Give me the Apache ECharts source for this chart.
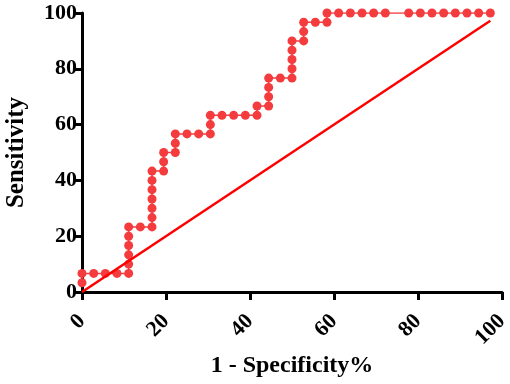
<!DOCTYPE html>
<html>
<head>
<meta charset="utf-8">
<script src="https://cdn.jsdelivr.net/npm/echarts@6/dist/echarts.min.js"></script>
<style>
  html, body { margin: 0; padding: 0; background: #fff; }
  #chart { width: 510px; height: 384px; }
</style>
</head>
<body>
<div id="chart"></div>
<script>
// 1 - specificity (%) for each ROC point
const fpr = [
  0, 0, 2.78, 5.56, 8.33, 11.11, 11.11, 11.11, 11.11, 11.11, 11.11,
  13.89, 16.67, 16.67, 16.67, 16.67, 16.67, 16.67, 16.67,
  19.44, 19.44, 19.44, 22.22, 22.22, 22.22, 25.0, 27.78, 30.56, 30.56, 30.56,
  33.33, 36.11, 38.89, 41.67, 41.67, 44.44, 44.44, 44.44, 44.44,
  47.22, 50.0, 50.0, 50.0, 50.0, 50.0, 52.78, 52.78, 52.78,
  55.56, 58.33, 58.33, 61.11, 63.89, 66.67, 69.44, 72.22,
  77.78, 80.56, 83.33, 86.11, 88.89, 91.67, 94.44, 97.22
];
// sensitivity (%) for each ROC point
const sensitivity = [
  3.33, 6.67, 6.67, 6.67, 6.67, 6.67, 10.0, 13.33, 16.67, 20.0, 23.33,
  23.33, 23.33, 26.67, 30.0, 33.33, 36.67, 40.0, 43.33,
  43.33, 46.67, 50.0, 50.0, 53.33, 56.67, 56.67, 56.67, 56.67, 60.0, 63.33,
  63.33, 63.33, 63.33, 63.33, 66.67, 66.67, 70.0, 73.33, 76.67,
  76.67, 76.67, 80.0, 83.33, 86.67, 90.0, 90.0, 93.33, 96.67,
  96.67, 96.67, 100, 100, 100, 100, 100, 100,
  100, 100, 100, 100, 100, 100, 100, 100
];
// line of identity
const refX = [0, 97.22];
const refY = [0, 97.22];
const ticks = [0, 20, 40, 60, 80, 100];

const font = "'Liberation Serif', 'Times New Roman', serif";

let myChart = echarts.init(document.getElementById("chart"));
let axisLine = { lineStyle: { color: "#000", width: 3 } };
let axisTick = { length: 8, lineStyle: { color: "#000", width: 3 } };

myChart.setOption({
  animation: false,
  grid: {
    left: 82,
    right: 8,
    top: 13,
    bottom: 92,
    containLabel: false,
    outerBoundsMode: "none"
  },
  xAxis: {
    type: "value",
    min: ticks[0],
    max: ticks[ticks.length - 1],
    interval: 20,
    name: "1 - Specificity%",
    nameLocation: "middle",
    nameGap: 62,
    nameMoveOverlap: false,
    nameTextStyle: { fontFamily: font, fontWeight: "bold", fontSize: 24, color: "#000" },
    axisLine: axisLine,
    axisTick: axisTick,
    splitLine: { show: false },
    axisLabel: {
      rotate: 45,
      margin: 26,
      fontFamily: font,
      fontWeight: "bold",
      fontSize: 22,
      color: "#000",
      hideOverlap: false
    }
  },
  yAxis: {
    type: "value",
    min: ticks[0],
    max: ticks[ticks.length - 1],
    interval: 20,
    name: "Sensitivity",
    nameLocation: "middle",
    nameGap: 53,
    nameMoveOverlap: false,
    nameTextStyle: { fontFamily: font, fontWeight: "bold", fontSize: 25, color: "#000" },
    axisLine: axisLine,
    axisTick: axisTick,
    splitLine: { show: false },
    axisLabel: {
      margin: 5,
      fontFamily: font,
      fontWeight: "bold",
      fontSize: 22,
      color: "#000"
    }
  },
  series: [
    {
      type: "line",
      data: refX.map((x, i) => [x, refY[i]]),
      symbol: "none",
      lineStyle: { color: "#f00", width: 2.5 },
      z: 3
    },
    {
      type: "line",
      data: fpr.map((x, i) => [x, sensitivity[i]]),
      symbol: "circle",
      symbolSize: 9,
      itemStyle: { color: "#f43b3e" },
      lineStyle: { color: "#f43b3e", width: 1.5 },
      z: 2
    }
  ]
});
</script>
</body>
</html>
